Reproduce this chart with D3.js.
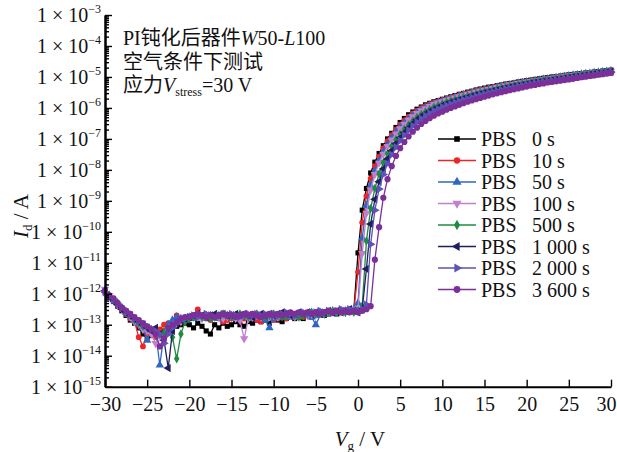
<!DOCTYPE html>
<html><head><meta charset="utf-8">
<script src="https://cdn.jsdelivr.net/npm/d3@7"></script>
<style>
body{margin:0;background:#fff;}
text{font-family:"Liberation Serif","Noto Sans CJK SC",serif;fill:#111;}
</style></head>
<body><svg id="chart" width="617" height="452"></svg>
<script>
// Gate voltage sweep (V), 0.5 V step
const vg = d3.range(-30, 30.001, 0.5);
const xTicks = [-30,-25,-20,-15,-10,-5,0,5,10,15,20,25,30];
const yExponents = [-3,-4,-5,-6,-7,-8,-9,-10,-11,-12,-13,-14,-15];
const seriesNames = ["0 s","10 s","50 s","100 s","500 s","1 000 s","2 000 s","3 600 s"];

// log10(Id / A), Vg = -30 ... 30 V
const pbs0 = [
-11.9,-12.1,-12.25,-12.4,-12.55,-12.7,-12.85,-12.95,-13.1,-13.3,
-13.4,-13.35,-13.3,-13.25,-13.2,-13.1,-13.15,-13.05,-13.0,-12.95,
-13.0,-13.1,-12.95,-13.05,-13.2,-13.3,-13.0,-13.1,-12.95,-13.05,
-13.0,-12.9,-13.0,-13.05,-12.9,-12.95,-12.85,-12.9,-12.85,-12.95,
-12.8,-12.85,-12.9,-12.8,-12.75,-12.8,-12.75,-12.8,-12.7,-12.75,
-12.7,-12.65,-12.7,-12.65,-12.6,-12.65,-12.6,-12.55,-12.6,-12.55,
-10.68,-9.3,-8.6,-8.1,-7.75,-7.47,-7.22,-7.0,-6.82,-6.63,
-6.47,-6.34,-6.22,-6.13,-6.04,-5.97,-5.9,-5.85,-5.8,-5.76,
-5.72,-5.68,-5.64,-5.6,-5.56,-5.53,-5.49,-5.46,-5.42,-5.39,
-5.36,-5.33,-5.31,-5.28,-5.26,-5.23,-5.21,-5.19,-5.16,-5.14,
-5.12,-5.1,-5.08,-5.06,-5.04,-5.02,-5.0,-4.99,-4.97,-4.95,
-4.93,-4.92,-4.9,-4.89,-4.87,-4.86,-4.84,-4.83,-4.81,-4.8,-4.78];
const pbs10 = [
-11.95,-12.1,-12.2,-12.35,-12.5,-12.65,-12.8,-12.9,-13.4,-13.7,
-13.3,-13.2,-13.4,-13.15,-13.0,-12.95,-13.1,-12.7,-12.9,-12.85,
-12.8,-12.75,-12.5,-12.7,-12.8,-12.85,-12.75,-12.8,-12.9,-12.85,
-12.8,-12.75,-12.85,-12.8,-12.75,-12.8,-12.85,-12.9,-12.8,-12.75,
-12.85,-12.8,-12.75,-12.8,-12.7,-12.75,-12.7,-12.75,-12.7,-12.65,
-12.7,-12.65,-12.6,-12.65,-12.6,-12.55,-12.6,-12.55,-12.5,-12.55,
-11.3,-9.7,-8.85,-8.28,-7.88,-7.57,-7.3,-7.07,-6.88,-6.7,
-6.54,-6.4,-6.28,-6.18,-6.09,-6.01,-5.94,-5.88,-5.83,-5.79,
-5.75,-5.71,-5.67,-5.63,-5.59,-5.55,-5.52,-5.48,-5.45,-5.42,
-5.39,-5.36,-5.33,-5.3,-5.28,-5.25,-5.23,-5.21,-5.18,-5.16,
-5.14,-5.12,-5.1,-5.08,-5.06,-5.04,-5.02,-5.0,-4.98,-4.96,
-4.95,-4.93,-4.91,-4.9,-4.88,-4.87,-4.85,-4.84,-4.82,-4.81,-4.79];
const pbs50 = [
-11.9,-12.05,-12.2,-12.3,-12.45,-12.6,-12.7,-12.85,-12.95,-13.1,
-13.5,-13.2,-13.25,-14.3,-13.3,-13.0,-12.85,-12.75,-12.8,-12.85,
-12.75,-12.8,-12.7,-12.75,-12.8,-12.7,-12.75,-12.8,-12.75,-12.7,
-12.75,-12.8,-12.75,-12.7,-12.75,-12.8,-12.7,-12.75,-12.85,-13.1,
-12.8,-12.75,-12.7,-12.75,-12.7,-12.75,-12.7,-12.65,-12.7,-12.75,
-13.0,-12.7,-12.65,-12.6,-12.65,-12.6,-12.6,-12.55,-12.6,-12.5,
-12.3,-10.2,-9.15,-8.5,-8.03,-7.7,-7.42,-7.18,-6.97,-6.79,
-6.62,-6.48,-6.35,-6.24,-6.14,-6.06,-5.99,-5.93,-5.87,-5.82,
-5.78,-5.74,-5.7,-5.66,-5.62,-5.58,-5.55,-5.51,-5.48,-5.45,
-5.42,-5.39,-5.36,-5.33,-5.3,-5.28,-5.25,-5.23,-5.2,-5.18,
-5.16,-5.14,-5.12,-5.1,-5.08,-5.06,-5.04,-5.02,-5.0,-4.98,
-4.96,-4.94,-4.93,-4.91,-4.89,-4.88,-4.86,-4.85,-4.83,-4.82,-4.8];
const pbs100 = [
-11.85,-12.05,-12.2,-12.35,-12.5,-12.6,-12.75,-12.9,-13.0,-13.15,
-13.2,-13.3,-13.6,-13.35,-13.4,-13.2,-13.05,-12.95,-12.9,-12.8,
-12.75,-12.7,-12.75,-12.8,-12.7,-12.75,-12.7,-12.75,-12.8,-12.75,
-12.75,-12.8,-12.85,-13.45,-12.8,-12.75,-12.7,-12.75,-12.7,-12.75,
-12.7,-12.75,-12.7,-12.65,-12.7,-12.75,-12.7,-12.65,-12.7,-12.65,
-12.65,-12.6,-12.65,-12.6,-12.55,-12.6,-12.55,-12.6,-12.55,-12.5,
-12.5,-10.7,-9.4,-8.65,-8.15,-7.78,-7.49,-7.24,-7.03,-6.84,
-6.67,-6.52,-6.39,-6.28,-6.18,-6.09,-6.02,-5.95,-5.89,-5.84,
-5.8,-5.76,-5.72,-5.68,-5.64,-5.6,-5.56,-5.53,-5.49,-5.46,
-5.43,-5.4,-5.37,-5.34,-5.31,-5.29,-5.26,-5.24,-5.21,-5.19,
-5.17,-5.15,-5.13,-5.11,-5.09,-5.07,-5.05,-5.03,-5.01,-4.99,
-4.97,-4.95,-4.93,-4.92,-4.9,-4.88,-4.87,-4.85,-4.84,-4.82,-4.81];
const pbs500 = [
-11.9,-12.05,-12.2,-12.3,-12.45,-12.6,-12.7,-12.85,-12.95,-13.05,
-13.1,-13.15,-13.2,-13.3,-13.25,-13.2,-13.4,-14.1,-13.3,-12.9,
-12.8,-12.75,-12.7,-12.75,-12.7,-12.8,-12.75,-12.7,-12.65,-12.7,
-12.75,-12.7,-12.65,-12.7,-12.75,-12.7,-12.65,-12.7,-12.75,-12.7,
-12.65,-12.7,-12.75,-12.7,-12.65,-12.7,-12.75,-12.7,-12.65,-12.6,
-12.65,-12.6,-12.65,-12.6,-12.55,-12.6,-12.55,-12.6,-12.55,-12.6,
-12.55,-12.4,-10.3,-9.25,-8.6,-8.13,-7.77,-7.48,-7.24,-7.03,
-6.85,-6.69,-6.55,-6.42,-6.31,-6.21,-6.13,-6.05,-5.98,-5.92,
-5.87,-5.82,-5.78,-5.74,-5.7,-5.66,-5.62,-5.58,-5.55,-5.51,
-5.48,-5.45,-5.42,-5.39,-5.36,-5.33,-5.3,-5.28,-5.25,-5.23,
-5.2,-5.18,-5.16,-5.14,-5.12,-5.1,-5.08,-5.06,-5.04,-5.02,
-5.0,-4.98,-4.96,-4.94,-4.92,-4.91,-4.89,-4.87,-4.86,-4.84,-4.82];
const pbs1000 = [
-11.9,-12.1,-12.2,-12.35,-12.5,-12.6,-12.7,-12.8,-12.9,-13.0,
-13.1,-13.2,-13.1,-13.3,-13.5,-14.4,-13.2,-12.95,-12.85,-12.8,
-12.75,-12.7,-12.65,-12.7,-12.75,-12.7,-12.65,-12.7,-12.65,-12.7,
-12.7,-12.65,-12.7,-12.65,-12.7,-12.75,-12.7,-12.65,-12.7,-12.65,
-12.7,-12.65,-12.6,-12.65,-12.7,-12.65,-12.6,-12.65,-12.6,-12.65,
-12.6,-12.65,-12.6,-12.55,-12.6,-12.55,-12.6,-12.55,-12.5,-12.55,
-12.6,-12.5,-11.2,-9.75,-8.95,-8.38,-7.97,-7.65,-7.38,-7.15,
-6.96,-6.79,-6.64,-6.5,-6.38,-6.28,-6.19,-6.11,-6.04,-5.98,
-5.92,-5.87,-5.82,-5.78,-5.74,-5.7,-5.66,-5.62,-5.58,-5.55,
-5.51,-5.48,-5.45,-5.42,-5.39,-5.36,-5.33,-5.3,-5.28,-5.25,
-5.23,-5.2,-5.18,-5.16,-5.14,-5.12,-5.1,-5.08,-5.06,-5.04,
-5.02,-5.0,-4.98,-4.96,-4.94,-4.92,-4.9,-4.88,-4.87,-4.85,-4.83];
const pbs2000 = [
-11.95,-12.1,-12.2,-12.35,-12.45,-12.6,-12.7,-12.8,-12.9,-13.0,
-13.05,-13.15,-13.2,-13.3,-13.6,-13.3,-13.1,-12.95,-12.85,-12.8,
-12.75,-12.7,-12.75,-12.7,-12.65,-12.7,-12.75,-12.7,-12.65,-12.7,
-12.65,-12.7,-12.75,-12.7,-12.65,-12.7,-12.65,-12.7,-12.65,-12.7,
-12.65,-12.7,-12.65,-12.6,-12.65,-12.7,-12.65,-12.6,-12.65,-12.6,
-12.6,-12.55,-12.6,-12.55,-12.6,-12.55,-12.5,-12.55,-12.5,-12.55,
-12.55,-12.5,-12.35,-10.4,-9.3,-8.62,-8.15,-7.8,-7.51,-7.27,
-7.06,-6.88,-6.72,-6.58,-6.46,-6.35,-6.25,-6.17,-6.09,-6.03,
-5.97,-5.92,-5.87,-5.82,-5.78,-5.74,-5.7,-5.66,-5.62,-5.58,
-5.55,-5.51,-5.48,-5.45,-5.42,-5.39,-5.36,-5.33,-5.3,-5.28,
-5.25,-5.23,-5.2,-5.18,-5.16,-5.14,-5.12,-5.1,-5.08,-5.06,
-5.04,-5.02,-5.0,-4.98,-4.96,-4.94,-4.92,-4.9,-4.88,-4.86,-4.84];
const pbs3600 = [
-11.9,-12.05,-12.15,-12.3,-12.45,-12.55,-12.65,-12.75,-12.85,-12.95,
-13.05,-13.15,-13.3,-13.7,-13.45,-13.1,-13.0,-12.9,-12.8,-12.75,
-12.75,-12.7,-12.65,-12.7,-12.75,-12.7,-12.75,-12.7,-12.65,-12.7,
-12.7,-12.75,-12.7,-12.65,-12.7,-12.65,-12.7,-12.75,-12.7,-12.65,
-12.7,-12.65,-12.7,-12.65,-12.6,-12.65,-12.6,-12.65,-12.6,-12.65,
-12.6,-12.65,-12.6,-12.55,-12.6,-12.55,-12.6,-12.55,-12.6,-12.55,
-12.6,-12.55,-12.5,-12.4,-10.9,-9.85,-8.9,-8.3,-7.88,-7.55,
-7.3,-7.1,-6.92,-6.77,-6.64,-6.52,-6.42,-6.33,-6.25,-6.18,
-6.12,-6.06,-6.0,-5.95,-5.9,-5.85,-5.8,-5.76,-5.72,-5.68,
-5.64,-5.6,-5.56,-5.53,-5.49,-5.46,-5.43,-5.4,-5.37,-5.34,
-5.31,-5.28,-5.26,-5.23,-5.21,-5.18,-5.16,-5.14,-5.12,-5.1,
-5.08,-5.06,-5.03,-5.01,-4.99,-4.97,-4.95,-4.93,-4.91,-4.89,-4.87];

const seriesLogI = [pbs0,pbs10,pbs50,pbs100,pbs500,pbs1000,pbs2000,pbs3600];
const colors = ["#000000","#f02424","#2f66c4","#c27fce","#1e8c40","#201e5c","#5c52b8","#7b2f99"];
const shapes = [
  {t:d3.symbolSquare, s:26, r:0},
  {t:d3.symbolCircle, s:26, r:0},
  {t:d3.symbolTriangle, s:30, r:0},
  {t:d3.symbolTriangle, s:30, r:180},
  {t:d3.symbolDiamond, s:26, r:0},
  {t:d3.symbolTriangle, s:30, r:-90},
  {t:d3.symbolTriangle, s:30, r:90},
  {t:d3.symbolCircle, s:30, r:0}
];

const svg = d3.select("#chart");
const L = 105, R = 611, T = 15, B = 386.7;
const x = d3.scaleLinear().domain([-30,30]).range([L,R]);
const y = d3.scaleLog().domain([1e-15,1e-3]).range([B,T]);

// curves
const line = d3.line().x(d=>x(d[0])).y(d=>y(d[1]));
seriesLogI.forEach((arr,i)=>{
  const pts = arr.map((v,j)=>[vg[j], Math.pow(10,v)]);
  const g = svg.append("g");
  g.append("path").datum(pts).attr("d",line)
    .attr("fill","none").attr("stroke",colors[i]).attr("stroke-width",1.3);
  const sym = d3.symbol().type(shapes[i].t).size(shapes[i].s);
  g.selectAll("path.m").data(pts).join("path").attr("class","m")
    .attr("d",sym)
    .attr("transform",d=>`translate(${x(d[0])},${y(d[1])}) rotate(${shapes[i].r})`)
    .attr("fill",colors[i]);
});

// axes
const majors = yExponents.map(e=>Math.pow(10,e));
const minors = [];
for(let e=-15;e<-3;e++){for(let k=2;k<=9;k++){minors.push(k*Math.pow(10,e));}}
const yMinor = svg.append("g").attr("transform",`translate(${L},0)`)
  .call(d3.axisRight(y).tickValues(minors).tickSize(4).tickSizeOuter(0).tickFormat(""));
const yMajor = svg.append("g").attr("transform",`translate(${L},0)`)
  .call(d3.axisRight(y).tickValues(majors).tickSize(7).tickSizeOuter(0).tickFormat(""));
const xAx = svg.append("g").attr("transform",`translate(0,${B})`)
  .call(d3.axisBottom(x).tickValues(xTicks).tickSize(-7).tickSizeOuter(0).tickPadding(10));
[yMinor,yMajor,xAx].forEach(g=>{
  g.selectAll(".domain").attr("stroke","#000").attr("stroke-width",2);
  g.selectAll(".tick line").attr("stroke","#000").attr("stroke-width",1.4);
});
xAx.selectAll(".tick text").attr("font-size",20).attr("font-family","Liberation Serif").attr("fill","#111")
  .attr("dx",d=>d===30?-5:0);

// y tick labels
yExponents.forEach(e=>{
  const t = svg.append("text").attr("x",101).attr("y",y(Math.pow(10,e))+7)
    .attr("text-anchor","end").attr("font-size",20);
  t.append("tspan").text("1 × 10");
  t.append("tspan").attr("font-size",12).attr("dy",-9).text("\u2212"+Math.abs(e));
});

// axis titles
const yt = svg.append("text").attr("transform","translate(28,216) rotate(-90)")
  .attr("text-anchor","middle").attr("font-size",21);
yt.append("tspan").attr("font-style","italic").text("I");
yt.append("tspan").attr("font-size",13).attr("dy",4).text("d");
yt.append("tspan").attr("dy",-4).text(" / A");
const xt = svg.append("text").attr("x",360).attr("y",446).attr("text-anchor","middle").attr("font-size",21);
xt.append("tspan").attr("font-style","italic").text("V");
xt.append("tspan").attr("font-size",13).attr("dy",4).text("g");
xt.append("tspan").attr("dy",-4).text(" / V");

// annotation
const a1 = svg.append("text").attr("x",123).attr("y",45).attr("font-size",20);
a1.append("tspan").text("PI钝化后器件");
a1.append("tspan").attr("font-style","italic").text("W");
a1.append("tspan").text("50-");
a1.append("tspan").attr("font-style","italic").text("L");
a1.append("tspan").text("100");
svg.append("text").attr("x",123).attr("y",69).attr("font-size",20).text("空气条件下测试");
const a3 = svg.append("text").attr("x",123).attr("y",92).attr("font-size",20);
a3.append("tspan").text("应力");
a3.append("tspan").attr("font-style","italic").text("V");
a3.append("tspan").attr("font-size",12).attr("dy",4).text("stress");
a3.append("tspan").attr("dy",-4).text("=30 V");

// legend
seriesNames.forEach((n,i)=>{
  const ly = 139 + i*21.5;
  svg.append("line").attr("x1",438).attr("x2",476).attr("y1",ly).attr("y2",ly)
    .attr("stroke",colors[i]).attr("stroke-width",1.5);
  svg.append("path").attr("d",d3.symbol().type(shapes[i].t).size(shapes[i].s*1.2)())
    .attr("transform",`translate(457,${ly}) rotate(${shapes[i].r})`).attr("fill",colors[i]);
  svg.append("text").attr("x",481).attr("y",ly+7).attr("font-size",20).text("PBS");
  svg.append("text").attr("x",532).attr("y",ly+7).attr("font-size",20).text(n);
});
</script></body></html>
